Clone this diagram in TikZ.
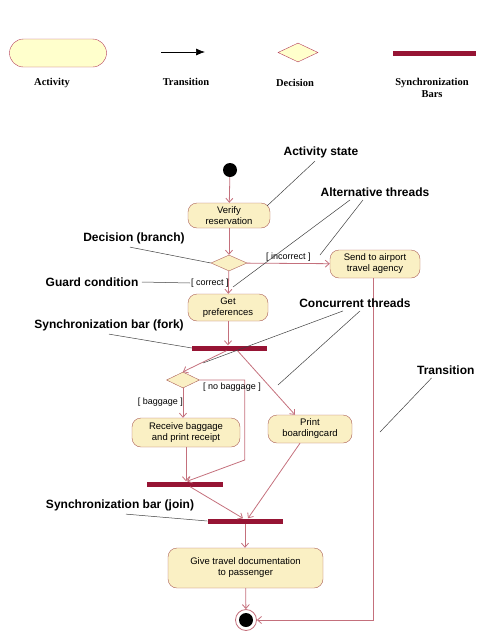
\documentclass[tikz,border=0pt]{standalone}
\usepackage{fontspec}
\setmainfont{Liberation Serif}
\setsansfont{Liberation Sans}
\usepackage{tikz}
\usetikzlibrary{shapes.geometric, arrows.meta}
\definecolor{actfill}{RGB}{255,255,204}
\definecolor{actline}{RGB}{180,60,90}
\definecolor{boxfill}{RGB}{250,240,196}
\definecolor{boxline}{RGB}{172,96,88}
\definecolor{flow}{RGB}{196,112,124}
\definecolor{barred}{RGB}{150,20,52}

\begin{document}
\begin{tikzpicture}[x=1pt, y=-1pt,
	activity/.style={draw=boxline, fill=boxfill, rounded corners=9pt, align=center, inner sep=1pt, font=\sffamily\fontsize{9.5}{11}\selectfont},
	decision/.style={diamond, draw=boxline, fill=boxfill, inner sep=0pt},
	syncbar/.style={fill=barred, inner sep=0pt, minimum height=5pt},
	flowto/.style={-{Straight Barb[length=4pt, width=7pt]}, draw=flow, line width=0.8pt},
	note/.style={font=\sffamily\bfseries\fontsize{12}{14}\selectfont},
	guard/.style={font=\sffamily\fontsize{9}{10}\selectfont, inner sep=1pt},
	leader/.style={draw=black!75, line width=0.5pt},
	legend/.style={font=\bfseries\fontsize{10.5}{12.5}\selectfont, align=center}]
	\useasboundingbox (0,0) rectangle (478,632);
	% legend
	\node[draw=actline, fill=actfill, rounded corners=14pt, minimum width=97pt, minimum height=28pt] (legact) at (58,53) {};
	\node[legend] (legactlbl) at (52,83) {Activity};
	\coordinate (legtra) at (161,52);
	\coordinate (legtrb) at (205,52);
	\draw[-{Latex[length=9pt, width=7pt]}, line width=0.7pt] (legtra) -- (legtrb);
	\node[legend] (legtralbl) at (186,82) {Transition};
	\node[decision, draw=actline, fill=actfill, minimum width=40pt, minimum height=19pt] (legdec) at (298,52.5) {};
	\node[legend] (legdeclbl) at (295,83) {Decision};
	\node[syncbar, minimum width=83pt] (legbar) at (434.5,53) {};
	\node[legend] (legbarlbl) at (432,88) {Synchronization\\Bars};
	% activity diagram
	\node[circle, fill=black, inner sep=0pt, minimum size=14pt] (start) at (230,170) {};
	\node[activity, minimum width=82pt, minimum height=25pt] (verify) at (229,215.5) {Verify\\reservation};
	\node[decision, minimum width=36pt, minimum height=16pt] (branch) at (229,263) {};
	\node[activity, minimum width=90pt, minimum height=28pt] (agency) at (375,264) {Send to airport\\travel agency};
	\node[activity, minimum width=80pt, minimum height=27pt] (prefs) at (228,307.5) {Get\\preferences};
	\node[syncbar, minimum width=75pt] (fork) at (229.5,348) {};
	\node[decision, minimum width=33pt, minimum height=16pt] (bag) at (183,380) {};
	\node[activity, minimum width=108pt, minimum height=29pt] (receive) at (186,432.5) {Receive baggage\\and print receipt};
	\node[activity, minimum width=84pt, minimum height=28pt] (print) at (310,429) {Print\\boardingcard};
	\node[syncbar, minimum width=76pt] (join1) at (185,484) {};
	\node[syncbar, minimum width=75pt] (join2) at (245,521) {};
	\node[activity, minimum width=155pt, minimum height=40pt] (give) at (245.5,568) {Give travel documentation\\to passenger};
	\node[circle, draw=flow, fill=white, line width=0.8pt, inner sep=0pt, minimum size=21pt] (stop) at (246,620) {};
	\fill[black] (stop.center) circle (7);

	\draw[flowto] (start) -- (verify);
	\draw[flowto] (verify) -- (branch);
	\draw[flowto] (branch) -- node[guard, above=1pt]{[ incorrect ]} (agency);
	\draw[flowto] (branch) -- (prefs);
	\node[guard] (correct) at (210,283) {[ correct ]};
	\draw[flowto] (prefs.south) -- (prefs.south |- fork.north);
	\draw[flowto] ([xshift=-3pt]fork.south) -- (bag.north);
	\draw[flowto] ([xshift=8pt]fork.south) -- ([xshift=-15pt]print.north);
	\draw[flowto] (bag.south) -- (bag.south |- receive.north);
	\node[guard, anchor=east] (baglbl) at (184,402) {[ baggage ]};
	\draw[flowto] (bag.east) -- ++(45,0) -- ++(0,80) -- ([xshift=2pt]join1.north);
	\node[guard] (nobag) at (232,387) {[ no baggage ]};
	\draw[flowto] (receive.south) -- (receive.south |- join1.north);
	\draw[flowto] ([xshift=5pt]join1.south) -- ([xshift=-2pt]join2.north);
	\draw[flowto] ([xshift=-10pt]print.south) -- ([xshift=3pt]join2.north);
	\draw[flowto] (join2.south) -- (join2.south |- give.north);
	\draw[flowto] (give) -- (stop);
	\draw[flowto] ([xshift=-2pt]agency.south) -- ([xshift=-2pt]agency.south |- stop) -- (stop.east);

	% callouts
	\coordinate (correctflow) at (233,287);
	\coordinate (incorrectflow) at (320,255);
	\coordinate (forkleft) at (203,363);
	\coordinate (forkright) at (278,385);
	\coordinate (agencyflow) at (380,432);
	\node[note] (actstate) at (321,152) {Activity state};
	\draw[leader] ([xshift=-6pt]actstate.south) -- ([shift={(-3,3)}]verify.north east);
	\node[note] (altthr) at (375,192) {Alternative threads};
	\draw[leader] ([xshift=-25pt]altthr.south) -- (correctflow);
	\draw[leader] ([xshift=-12pt]altthr.south) -- (incorrectflow);
	\node[note] (branchlbl) at (134,238) {Decision (branch)};
	\draw[leader] ([xshift=-4pt]branchlbl.south) -- (branch.west);
	\node[note] (guardlbl) at (92,282) {Guard condition};
	\draw[leader] (guardlbl.east) -- (correct.west);
	\node[note] (concthr) at (355,303) {Concurrent threads};
	\draw[leader] ([xshift=-12pt]concthr.south) -- (forkleft);
	\draw[leader] ([xshift=5pt]concthr.south) -- (forkright);
	\node[note] (forklbl) at (109,325) {Synchronization bar (fork)};
	\draw[leader] (forklbl.south) -- (fork.west);
	\node[note, anchor=east] (translbl) at (478,370) {Transition};
	\draw[leader] ([xshift=18pt]translbl.south west) -- (agencyflow);
	\node[note] (joinlbl) at (120,505) {Synchronization bar (join)};
	\draw[leader] ([xshift=6pt]joinlbl.south) -- (join2.west);
\end{tikzpicture}
\end{document}
